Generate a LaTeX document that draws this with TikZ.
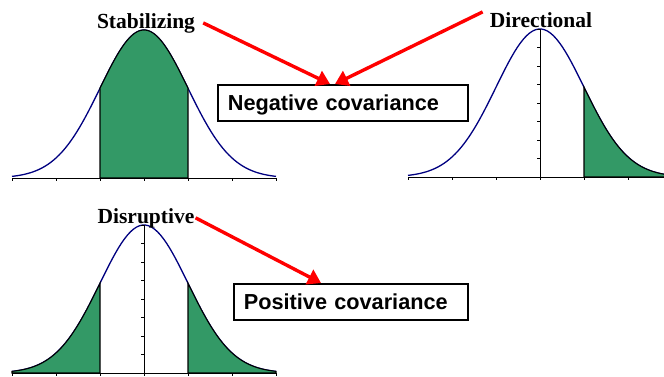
\documentclass[tikz,border=0pt]{standalone}
\usepackage{fontspec}
\setmainfont{Liberation Serif}
\setsansfont{Liberation Sans}
\usetikzlibrary{arrows.meta,positioning}
\definecolor{bellgreen}{RGB}{51,153,102}
\definecolor{bellnavy}{RGB}{0,0,128}

\begin{document}
\begin{tikzpicture}[x=1pt,y=-1pt,declare function={bell(\t)=148*exp(-((\t/44)*(\t/44))/2);}]
  \tikzstyle{curve}=[draw=bellnavy,line width=1.3pt]
  \tikzstyle{tail}=[fill=bellgreen,draw=black,line width=1.1pt]
  \tikzstyle{baseaxis}=[draw=black,line width=1pt]
  \tikzstyle{sellabel}=[font=\fontsize{21.5}{24}\selectfont\bfseries,inner sep=0pt,anchor=base]
  \tikzstyle{covbox}=[draw=black,line width=1.8pt,anchor=north west,align=left,font=\fontsize{21.7}{24}\selectfont\sffamily\bfseries,text height=15.5pt,text depth=0pt,inner xsep=10pt,minimum height=36pt]
  \tikzstyle{pointer}=[draw=red,line width=3.4pt,-{Triangle[length=13pt,width=16pt]}]

  \clip (0,0) rectangle (664,376);

  % bell curves
  \foreach \mx/\base in {144/178,540/177,144/373}
    \draw[curve] plot[domain=-132:132,samples=90] ({\mx+\x},{\base-bell(\x)});

  % selected parts
  \filldraw[tail] (100,178) -- plot[domain=-44:44,samples=40] ({144+\x},{178-bell(\x)}) -- (188,178) -- cycle;
  \filldraw[tail] (584,177) -- plot[domain=44:132,samples=40] ({540+\x},{177-bell(\x)}) -- (672,177) -- cycle;
  \filldraw[tail] (12,373) -- plot[domain=-132:-44,samples=40] ({144+\x},{373-bell(\x)}) -- (100,373) -- cycle;
  \filldraw[tail] (188,373) -- plot[domain=44:132,samples=40] ({144+\x},{373-bell(\x)}) -- (276,373) -- cycle;

  % axes and ticks
  \foreach \mx/\base in {144/178,540/177,144/373} {
    \draw[baseaxis] ({\mx-132},\base) -- ({\mx+132},\base);
    \foreach \k in {-3,...,3}
      \draw[baseaxis] ({\mx+44*\k},\base) -- ++(0,3);
  }
  \foreach \mx/\base in {540/177,144/373} {
    \draw[baseaxis] (\mx,\base) -- (\mx,{\base-148});
    \foreach \k in {1,...,8}
      \draw[baseaxis] (\mx,{\base-18.5*\k}) -- ++(-3,0);
  }

  \node[sellabel] (stab) at (146,28) {Stabilizing};
  \node[sellabel] (dir) at (541,27) {Directional};
  \node[sellabel] (disr) at (146,223) {Disruptive};

  \node[covbox,text width=230pt] (neg) at (217,84) {Negative covariance};
  \node[covbox,text width=214pt] (pos) at (233,283) {Positive covariance};

  \draw[pointer] ([xshift=8pt]stab.east) -- ([xshift=113pt]neg.north west);
  \draw[pointer] ([xshift=-7pt]dir.north west) -- ([xshift=118pt]neg.north west);
  \draw[pointer] ([xshift=1pt]disr.east) -- ([xshift=88pt]pos.north west);
\end{tikzpicture}
\end{document}
